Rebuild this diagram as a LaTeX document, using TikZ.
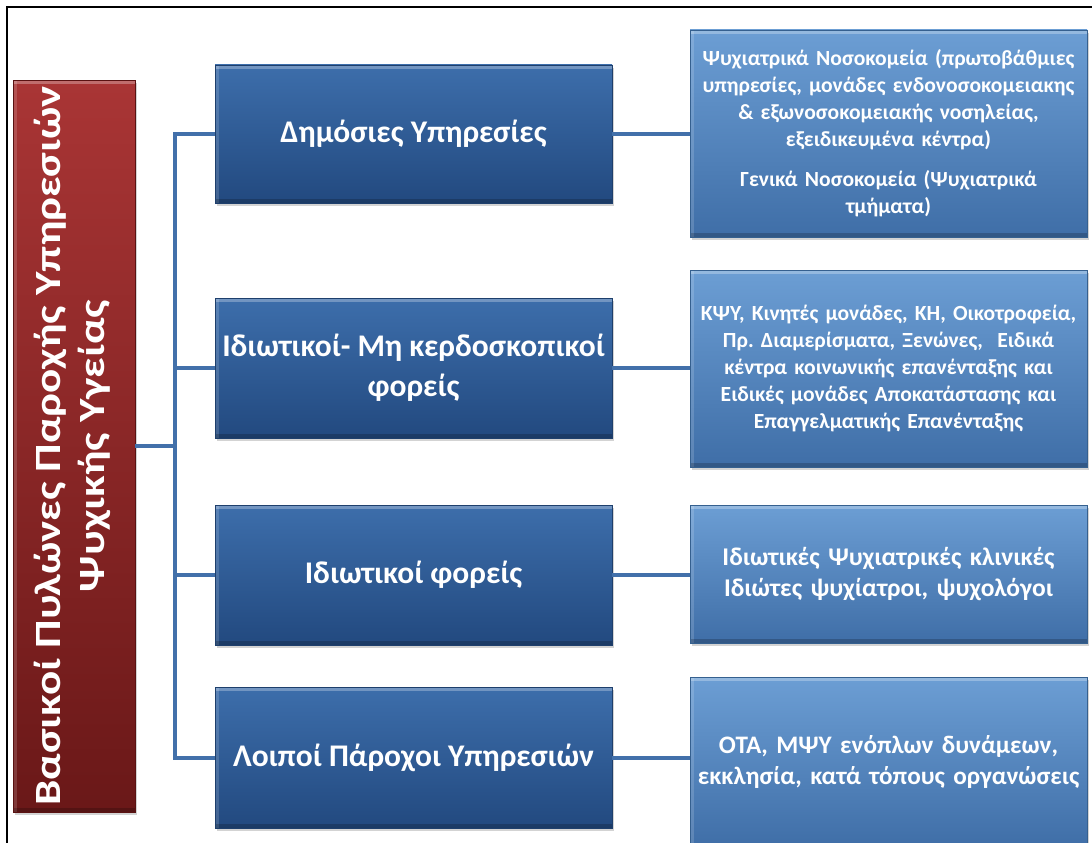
\documentclass[tikz,border=0pt]{standalone}
\usepackage{fontspec}
\setmainfont{Carlito}
\usetikzlibrary{shadows}
\frenchspacing

\definecolor{pillarTop}{HTML}{A93535}
\definecolor{pillarBottom}{HTML}{6A1818}
\definecolor{pillarEdge}{HTML}{5A1212}
\definecolor{sectorTop}{HTML}{3D6EAB}
\definecolor{sectorBottom}{HTML}{22497F}
\definecolor{sectorEdge}{HTML}{1E3F6C}
\definecolor{detailTop}{HTML}{6C9ED4}
\definecolor{detailBottom}{HTML}{3F6EA7}
\definecolor{detailEdge}{HTML}{35608F}
\definecolor{linkBlue}{HTML}{4270AA}

\tikzset{
  boxshadow/.style={drop shadow={opacity=0.35, shadow xshift=2pt, shadow yshift=-3pt}},
  bevel/.style={path picture={
      \fill[white, opacity=0.28] (path picture bounding box.north west) rectangle ([yshift=-4pt]path picture bounding box.north east);
      \fill[white, opacity=0.15] (path picture bounding box.north west) rectangle ([xshift=4pt]path picture bounding box.south west);
      \fill[black, opacity=0.2] (path picture bounding box.south west) rectangle ([yshift=4pt]path picture bounding box.south east);}},
}

\begin{document}
\begin{tikzpicture}[x=1pt,y=-1pt,
    pillar/.style={draw=pillarEdge, top color=pillarTop, bottom color=pillarBottom,
      minimum width=122pt, minimum height=732pt, inner sep=0pt, text=white,
      font=\bfseries\fontsize{37}{44}\selectfont, boxshadow, bevel},
    sector/.style={draw=sectorEdge, top color=sectorTop, bottom color=sectorBottom,
      minimum width=397pt, minimum height=140pt, inner sep=0pt, align=center, text=white,
      font=\bfseries\fontsize{31.5}{40}\selectfont, boxshadow, bevel},
    detail/.style={draw=detailEdge, top color=detailTop, bottom color=detailBottom,
      minimum width=397pt, text width=393pt, inner sep=2pt, align=center, text=white,
      font=\bfseries\fontsize{21.6}{27}\selectfont, boxshadow, bevel},
    link/.style={draw=linkBlue, line width=4pt}]

  \useasboundingbox (0,0) rectangle (1092,843);
  \clip (0,0) rectangle (1092,843);

  % frame
  \draw[line width=1.5pt] (7,843) -- (7,7) -- (1092,7);

  % left column
  \node[pillar] (pillars) at (74,446) {\rotatebox{90}{\scalebox{1.22}[1]{\begin{tabular}{@{}c@{}}Βασικοί Πυλώνες Παροχής Υπηρεσιών\\ Ψυχικής Υγείας\end{tabular}}}};

  % middle column
  \node[sector, minimum height=138pt] (public) at (413.5,134) {Δημόσιες Υπηρεσίες};
  \node[sector] (nonprofit) at (413.5,368) {Ιδιωτικοί- Μη κερδοσκοπικοί\\ φορείς};
  \node[sector] (private) at (413.5,575) {Ιδιωτικοί φορείς};
  \node[sector, minimum height=141pt] (other) at (413.5,757.5) {Λοιποί Πάροχοι Υπηρεσιών};

  % right column
  \node[detail, minimum height=207pt] (publicinfo) at (888.5,133.5)
    {Ψυχιατρικά Νοσοκομεία (πρωτοβάθμιες\\ υπηρεσίες, μονάδες ενδονοσοκομειακης\\ \& εξωνοσοκομειακής νοσηλείας,\\ εξειδικευμένα κέντρα)\\[13pt]
     Γενικά Νοσοκομεία (Ψυχιατρικά\\ τμήματα)};
  \node[detail, minimum height=197pt] (nonprofitinfo) at (888.5,368.5)
    {ΚΨΥ, Κινητές μονάδες, ΚΗ, Οικοτροφεία,\\ Πρ. Διαμερίσματα, Ξενώνες,\ \ Ειδικά\\ κέντρα κοινωνικής επανένταξης και\\ Ειδικές μονάδες Αποκατάστασης και\\ Επαγγελματικής Επανένταξης};
  \node[detail, minimum height=138pt, font=\bfseries\fontsize{25.5}{31}\selectfont] (privateinfo) at (888.5,574)
    {Ιδιωτικές Ψυχιατρικές κλινικές\\ Ιδιώτες ψυχίατροι, ψυχολόγοι};
  \node[detail, minimum height=170pt, font=\bfseries\fontsize{25.2}{31}\selectfont] (otherinfo) at (888.5,762)
    {ΟΤΑ, ΜΨΥ ενόπλων δυνάμεων,\\ εκκλησία, κατά τόπους οργανώσεις};

  % connectors
  \draw[link] (pillars.east) -- ++(40,0) |- (public.west);
  \draw[link] (pillars.east) -- ++(40,0) |- (nonprofit.west);
  \draw[link] (pillars.east) -- ++(40,0) |- (private.west);
  \draw[link] (pillars.east) -- ++(40,0) |- (other.west);
  \draw[link] (public.east) -- (public.east -| publicinfo.west);
  \draw[link] (nonprofit.east) -- (nonprofit.east -| nonprofitinfo.west);
  \draw[link] (private.east) -- (private.east -| privateinfo.west);
  \draw[link] (other.east) -- (other.east -| otherinfo.west);
\end{tikzpicture}
\end{document}
